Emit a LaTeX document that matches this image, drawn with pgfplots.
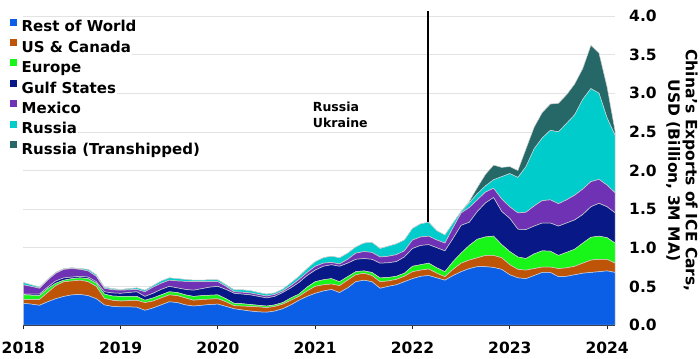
\documentclass[border=0pt]{standalone}
\usepackage{fontspec}
\setmainfont{DejaVu Sans}
\usepackage{pgfplots}
\usepackage{pgfplotstable}
\pgfplotsset{compat=1.18}
\definecolor{cRow}{RGB}{10,95,230}
\definecolor{cUS}{RGB}{190,84,8}
\definecolor{cEu}{RGB}{24,245,24}
\definecolor{cGulf}{RGB}{8,24,135}
\definecolor{cMx}{RGB}{112,50,180}
\definecolor{cRu}{RGB}{0,204,204}
\definecolor{cRt}{RGB}{38,104,104}
\pgfplotstableread{
m row co eu gulf mx ru rt
0 .28 .05 .06 .01 .12 .03 0
1 .27 .06 .055 .015 .10 .02 0
2 .255 .075 .05 .02 .075 .015 0
3 .30 .12 .05 .02 .09 .01 0
4 .34 .17 .03 .03 .10 .01 0
5 .37 .19 .02 .03 .11 .01 0
6 .39 .18 .03 .02 .11 .01 0
7 .395 .185 .03 .02 .09 .01 0
8 .38 .18 .04 .02 .08 .02 0
9 .34 .16 .04 .02 .07 .02 0
10 .26 .085 .055 .03 .045 .015 0
11 .24 .08 .055 .04 .04 .015 0
12 .235 .075 .06 .04 .04 .01 0
13 .235 .08 .055 .05 .035 .015 0
14 .23 .09 .05 .06 .03 .02 0
15 .19 .10 .03 .05 .06 .02 0
16 .22 .09 .04 .06 .08 .02 0
17 .26 .09 .04 .07 .08 .03 0
18 .30 .09 .04 .07 .08 .03 0
19 .29 .09 .04 .06 .09 .03 0
20 .26 .09 .04 .07 .105 .025 0
21 .245 .075 .05 .08 .11 .02 0
22 .255 .075 .05 .09 .09 .02 0
23 .265 .07 .05 .105 .07 .025 0
24 .27 .07 .05 .11 .06 .025 0
25 .24 .06 .04 .12 .04 .02 0
26 .21 .04 .03 .13 .02 .025 0
27 .195 .05 .03 .125 .025 .03 0
28 .18 .06 .025 .125 .025 .03 0
29 .17 .065 .02 .115 .025 .025 0
30 .165 .06 .02 .105 .025 .025 0
31 .18 .06 .02 .11 .025 .02 0
32 .21 .06 .02 .13 .02 .025 0
33 .26 .06 .03 .13 .03 .035 0
34 .32 .05 .03 .15 .04 .04 0
35 .37 .07 .05 .15 .04 .05 0
36 .41 .09 .06 .15 .05 .06 0
37 .44 .08 .065 .175 .04 .07 0
38 .46 .07 .07 .18 .03 .08 0
39 .42 .09 .05 .20 .03 .08 0
40 .48 .10 .045 .175 .05 .08 0
41 .56 .09 .04 .16 .08 .08 0
42 .58 .09 .03 .16 .09 .11 0
43 .56 .08 .04 .17 .09 .13 0
44 .475 .085 .05 .19 .08 .11 0
45 .50 .07 .045 .19 .085 .13 0
46 .52 .07 .04 .19 .09 .14 0
47 .56 .07 .04 .21 .08 .14 0
48 .60 .09 .07 .23 .11 .15 0
49 .63 .08 .07 .25 .11 .17 0
50 .64 .085 .075 .24 .11 .18 0
51 .61 .06 .07 .26 .10 .12 0
52 .58 .045 .065 .27 .10 .105 0
53 .64 .08 .10 .30 .14 .06 0
54 .69 .11 .13 .36 .16 .02 0
55 .73 .11 .19 .30 .19 .06 .02
56 .755 .115 .24 .36 .15 .08 .08
57 .755 .145 .24 .44 .14 .08 .15
58 .745 .155 .25 .50 .12 .11 .19
59 .72 .15 .17 .43 .16 .29 .12
60 .65 .13 .17 .43 .15 .43 .09
61 .61 .11 .16 .36 .21 .46 .09
62 .60 .11 .15 .375 .225 .59 .23
63 .64 .09 .19 .36 .26 .74 .28
64 .68 .07 .21 .36 .29 .81 .33
65 .68 .07 .205 .365 .30 .90 .34
66 .625 .105 .17 .38 .29 .93 .37
67 .63 .11 .20 .38 .30 .99 .37
68 .65 .11 .22 .38 .32 1.04 .40
69 .67 .13 .26 .37 .33 1.16 .40
70 .68 .16 .295 .395 .325 1.205 .56
71 .69 .16 .30 .425 .31 1.115 .52
72 .70 .15 .28 .40 .28 .87 .40
73 .68 .12 .26 .39 .26 .74 .05
}\data
\begin{document}
\begin{tikzpicture}
\begin{axis}[
  scale only axis, width=591.9bp, height=309bp,
  xmin=0, xmax=73, ymin=0, ymax=4,
  stack plots=y,
  axis x line*=bottom, axis y line*=right,
  y axis line style={draw=none},
  x axis line style={draw=black!85, line width=0.9bp},
  xtick={0,12,24,36,48,60,72},
  xticklabels={2018,2019,2020,2021,2022,2023,2024},
  ytick={0,0.5,1,1.5,2,2.5,3,3.5,4},
  yticklabel style={/pgf/number format/fixed, /pgf/number format/fixed zerofill, /pgf/number format/precision=1, xshift=6bp},
  xticklabel style={yshift=-8.5bp},
  /pgf/number format/assume math mode=true,
  ticklabel style={font=\fontsize{15.5bp}{18bp}\selectfont\bfseries},
  tick align=outside,
  xtick style={draw=black!85, line width=0.9bp},
  major tick length=4.5bp,
  ytick style={draw=none},
  ymajorgrids, grid style={gray!22, line width=0.7bp},
  clip=false,
  legend cell align=left,
  legend style={at={(rel axis cs:0,1)}, anchor=north west, xshift=-13.3bp, yshift=-2.5bp,
    draw=none, fill=none, inner sep=0pt, row sep=3.2bp,
    font=\fontsize{15bp}{18bp}\selectfont\bfseries,
    nodes={fill=white, inner sep=1bp, text height=11bp, text depth=3bp},
    /tikz/every odd column/.append style={column sep=3.5bp}},
  legend image code/.code={\fill[#1,draw=none] (0bp,2.2bp) rectangle (7bp,9.2bp);},
  every axis plot/.append style={draw=gray!35, line width=0.5bp},
]
\addplot[fill=cRow] table[x=m,y=row]{\data} \closedcycle;
\addlegendentry{Rest of World}
\addplot[fill=cUS] table[x=m,y=co]{\data} \closedcycle;
\addlegendentry{US \& Canada}
\addplot[fill=cEu] table[x=m,y=eu]{\data} \closedcycle;
\addlegendentry{Europe}
\addplot[fill=cGulf] table[x=m,y=gulf]{\data} \closedcycle;
\addlegendentry{Gulf States}
\addplot[fill=cMx] table[x=m,y=mx]{\data} \closedcycle;
\addlegendentry{Mexico}
\addplot[fill=cRu] table[x=m,y=ru]{\data} \closedcycle;
\addlegendentry{Russia}
\addplot[fill=cRt] table[x=m,y=rt]{\data} \closedcycle;
\addlegendentry{Russia (Transhipped)}
\draw[black, line width=1.3bp] (axis cs:49.9,0) -- (axis cs:49.9,4.07);
\node[anchor=west, align=left, font=\fontsize{12.5bp}{16bp}\selectfont\bfseries, inner sep=0pt] at (axis cs:35.7,2.72) {Russia\\Ukraine};
\node[rotate=-90, align=center, font=\fontsize{15.5bp}{17.5bp}\selectfont\bfseries] at ([xshift=66.8bp]axis description cs:1,0.5) {China's Exports of ICE Cars,\\USD (Billion, 3M MA)};
\end{axis}
\pgfresetboundingbox
\path[use as bounding box] (-23.3bp,-34bp) rectangle (676.7bp,325bp);
\end{tikzpicture}
\end{document}
